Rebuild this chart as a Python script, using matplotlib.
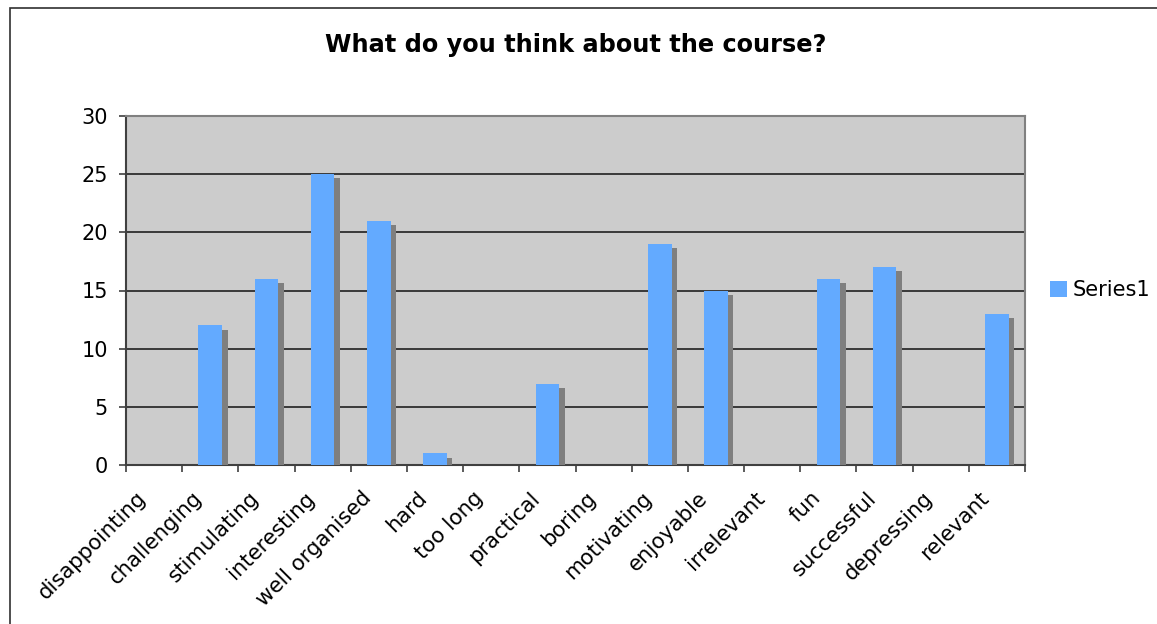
import matplotlib
matplotlib.use("Agg")
import matplotlib.pyplot as plt
import matplotlib.patheffects as pe
import matplotlib.transforms as mtransforms
from matplotlib.patches import Rectangle, Patch
import numpy as np

# survey answers: how many people picked each word
words = ["disappointing", "challenging", "stimulating", "interesting",
         "well organised", "hard", "too long", "practical", "boring",
         "motivating", "enjoyable", "irrelevant", "fun", "successful",
         "depressing", "relevant"]
counts = [0, 12, 16, 25, 21, 1, 0, 7, 0, 19, 15, 0, 16, 17, 0, 13]
y_ticks = [0, 5, 10, 15, 20, 25, 30]

W, H = 1157, 624
fig = plt.figure(figsize=(W / 100, H / 100), dpi=100)
plt.rcParams['font.family'] = ['DejaVu Sans']

# chart frame, runs off the right and bottom edges
fig.patches.append(Rectangle((10 / W, -0.1), 1.2, 1 - 8 / H + 0.1,
                             transform=fig.transFigure, fill=False,
                             edgecolor='#303030', linewidth=1.2))

ax = fig.add_axes([126 / W, 1 - 465 / H, (1025 - 126) / W, (465 - 116) / H])
ax.set_facecolor('#cccccc')

x = np.arange(len(words))
bars = ax.bar(x, counts, width=0.42, color='#63aaff', zorder=3)
for b in bars:
    b.set_path_effects([pe.SimplePatchShadow(offset=(4.0, -3.0),
                                             shadow_rgbFace='#7f7f7f', alpha=1.0),
                        pe.Normal()])

ax.set_xlim(-0.5, len(words) - 0.5)
ax.set_ylim(0, 30)
ax.set_yticks(y_ticks)
ax.yaxis.grid(True, color='#111111', linewidth=1.1, zorder=1)
ax.set_axisbelow(True)

# category names: slanted, ending a little left of each slot centre
ax.set_xticks(np.arange(len(words) + 1) - 0.5)
ax.set_xticklabels([])
ax.tick_params(axis='x', length=5, width=1.2, color='#404040')
offset = mtransforms.ScaledTranslation(-11 / 100, -30 / 100, fig.dpi_scale_trans)
for i, w in enumerate(words):
    ax.text(i, 0, w, transform=ax.get_xaxis_transform() + offset,
            rotation=45, ha='right', va='center', rotation_mode='anchor',
            fontsize=15.3)

ax.tick_params(axis='y', length=5, width=1.2, color='#404040', labelsize=15, pad=8)

for side in ('left', 'bottom'):
    ax.spines[side].set_color('#404040')
    ax.spines[side].set_linewidth(1.5)
for side in ('top', 'right'):
    ax.spines[side].set_color('#808080')
    ax.spines[side].set_linewidth(1.5)

fig.text(0.498, 1 - 45 / H, "What do you think about the course?",
         ha='center', va='center', fontsize=17.3, fontweight='bold')

fig.legend(handles=[Patch(facecolor='#63aaff', label='Series1')],
           loc='center left', bbox_to_anchor=(1050 / W, 1 - 290 / H),
           frameon=False, fontsize=15, handlelength=0.8, handleheight=0.8,
           handletextpad=0.3, borderpad=0, borderaxespad=0)

fig.savefig("out.png", dpi=100)
